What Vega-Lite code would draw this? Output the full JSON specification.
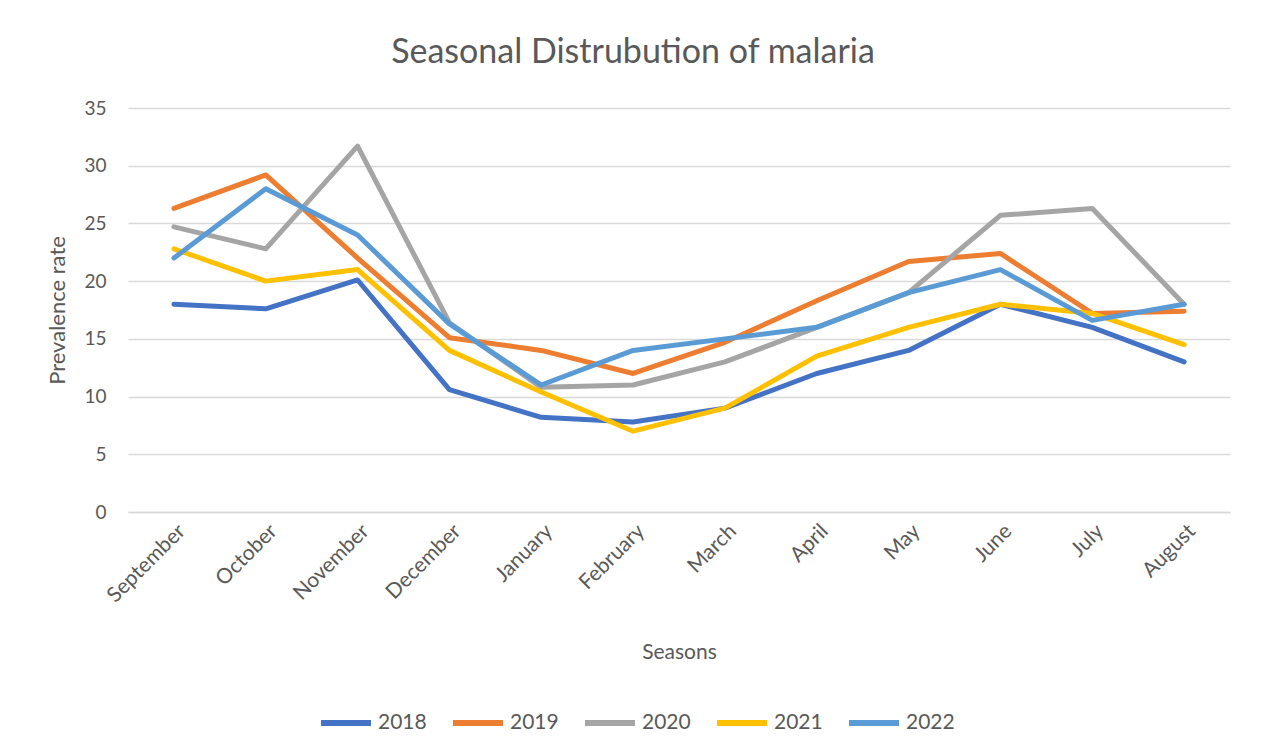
{
  "$schema": "https://vega.github.io/schema/vega-lite/v6.json",
  "autosize": "none",
  "width": 1102,
  "height": 404,
  "padding": {"left": 128, "top": 108, "right": 36, "bottom": 240},
  "background": "white",
  "title": {
    "text": "Seasonal Distrubution of malaria",
    "fontSize": 34,
    "font": "Lato",
    "fontWeight": "normal",
    "color": "#595959",
    "anchor": "middle",
    "dx": -46,
    "offset": 29
  },
  "data": {
    "values": [
      {"month": "September", "year": "2018", "rate": 18.0},
      {"month": "October", "year": "2018", "rate": 17.6},
      {"month": "November", "year": "2018", "rate": 20.1},
      {"month": "December", "year": "2018", "rate": 10.6},
      {"month": "January", "year": "2018", "rate": 8.2},
      {"month": "February", "year": "2018", "rate": 7.8},
      {"month": "March", "year": "2018", "rate": 9.0},
      {"month": "April", "year": "2018", "rate": 12.0},
      {"month": "May", "year": "2018", "rate": 14.0},
      {"month": "June", "year": "2018", "rate": 18.0},
      {"month": "July", "year": "2018", "rate": 16.0},
      {"month": "August", "year": "2018", "rate": 13.0},
      {"month": "September", "year": "2019", "rate": 26.3},
      {"month": "October", "year": "2019", "rate": 29.2},
      {"month": "November", "year": "2019", "rate": 22.0},
      {"month": "December", "year": "2019", "rate": 15.1},
      {"month": "January", "year": "2019", "rate": 14.0},
      {"month": "February", "year": "2019", "rate": 12.0},
      {"month": "March", "year": "2019", "rate": 14.7},
      {"month": "April", "year": "2019", "rate": 18.3},
      {"month": "May", "year": "2019", "rate": 21.7},
      {"month": "June", "year": "2019", "rate": 22.4},
      {"month": "July", "year": "2019", "rate": 17.2},
      {"month": "August", "year": "2019", "rate": 17.4},
      {"month": "September", "year": "2020", "rate": 24.7},
      {"month": "October", "year": "2020", "rate": 22.8},
      {"month": "November", "year": "2020", "rate": 31.7},
      {"month": "December", "year": "2020", "rate": 16.4},
      {"month": "January", "year": "2020", "rate": 10.8},
      {"month": "February", "year": "2020", "rate": 11.0},
      {"month": "March", "year": "2020", "rate": 13.0},
      {"month": "April", "year": "2020", "rate": 16.0},
      {"month": "May", "year": "2020", "rate": 19.0},
      {"month": "June", "year": "2020", "rate": 25.7},
      {"month": "July", "year": "2020", "rate": 26.3},
      {"month": "August", "year": "2020", "rate": 18.0},
      {"month": "September", "year": "2021", "rate": 22.8},
      {"month": "October", "year": "2021", "rate": 20.0},
      {"month": "November", "year": "2021", "rate": 21.0},
      {"month": "December", "year": "2021", "rate": 14.0},
      {"month": "January", "year": "2021", "rate": 10.4},
      {"month": "February", "year": "2021", "rate": 7.0},
      {"month": "March", "year": "2021", "rate": 9.0},
      {"month": "April", "year": "2021", "rate": 13.5},
      {"month": "May", "year": "2021", "rate": 16.0},
      {"month": "June", "year": "2021", "rate": 18.0},
      {"month": "July", "year": "2021", "rate": 17.2},
      {"month": "August", "year": "2021", "rate": 14.5},
      {"month": "September", "year": "2022", "rate": 22.0},
      {"month": "October", "year": "2022", "rate": 28.0},
      {"month": "November", "year": "2022", "rate": 24.0},
      {"month": "December", "year": "2022", "rate": 16.3},
      {"month": "January", "year": "2022", "rate": 11.0},
      {"month": "February", "year": "2022", "rate": 14.0},
      {"month": "March", "year": "2022", "rate": 15.0},
      {"month": "April", "year": "2022", "rate": 16.0},
      {"month": "May", "year": "2022", "rate": 19.0},
      {"month": "June", "year": "2022", "rate": 21.0},
      {"month": "July", "year": "2022", "rate": 16.6},
      {"month": "August", "year": "2022", "rate": 18.0}
    ]
  },
  "mark": {"type": "line", "strokeWidth": 5, "strokeCap": "round", "strokeJoin": "round"},
  "encoding": {
    "x": {
      "field": "month",
      "type": "nominal",
      "sort": ["September", "October", "November", "December", "January", "February", "March", "April", "May", "June", "July", "August"],
      "scale": {"type": "point", "padding": 0.5},
      "axis": {
        "title": "Seasons",
        "titleFont": "Lato",
        "titleFontSize": 21,
        "titleFontWeight": "normal",
        "titleColor": "#595959",
        "titlePadding": 36,
        "labelFont": "Lato",
        "labelFontSize": 21,
        "labelColor": "#595959",
        "labelAngle": -45,
        "labelPadding": 8,
        "ticks": false,
        "domain": true,
        "domainColor": "#D9D9D9",
        "domainWidth": 1.5,
        "grid": false
      }
    },
    "y": {
      "field": "rate",
      "type": "quantitative",
      "scale": {"domain": [0, 35]},
      "axis": {
        "title": "Prevalence rate",
        "titleFont": "Lato",
        "titleFontSize": 22,
        "titleFontWeight": "normal",
        "titleColor": "#595959",
        "titlePadding": 14,
        "values": [0, 5, 10, 15, 20, 25, 30, 35],
        "labelFont": "Lato",
        "labelFontSize": 19,
        "labelColor": "#595959",
        "labelPadding": 22,
        "ticks": false,
        "domain": false,
        "grid": true,
        "gridColor": "#D9D9D9",
        "gridWidth": 1.5
      }
    },
    "color": {
      "field": "year",
      "type": "nominal",
      "scale": {
        "domain": ["2018", "2019", "2020", "2021", "2022"],
        "range": ["#4472C4", "#ED7D31", "#A5A5A5", "#FFC000", "#5B9BD5"]
      },
      "legend": {
        "title": null,
        "orient": "none",
        "direction": "horizontal",
        "legendX": 190,
        "legendY": 587,
        "symbolType": "stroke",
        "symbolSize": 2500,
        "symbolStrokeWidth": 6,
        "labelFont": "Lato",
        "labelFontSize": 21,
        "labelColor": "#595959",
        "labelOffset": 4,
        "columnPadding": 14
      }
    }
  },
  "config": {"view": {"stroke": null}}
}
